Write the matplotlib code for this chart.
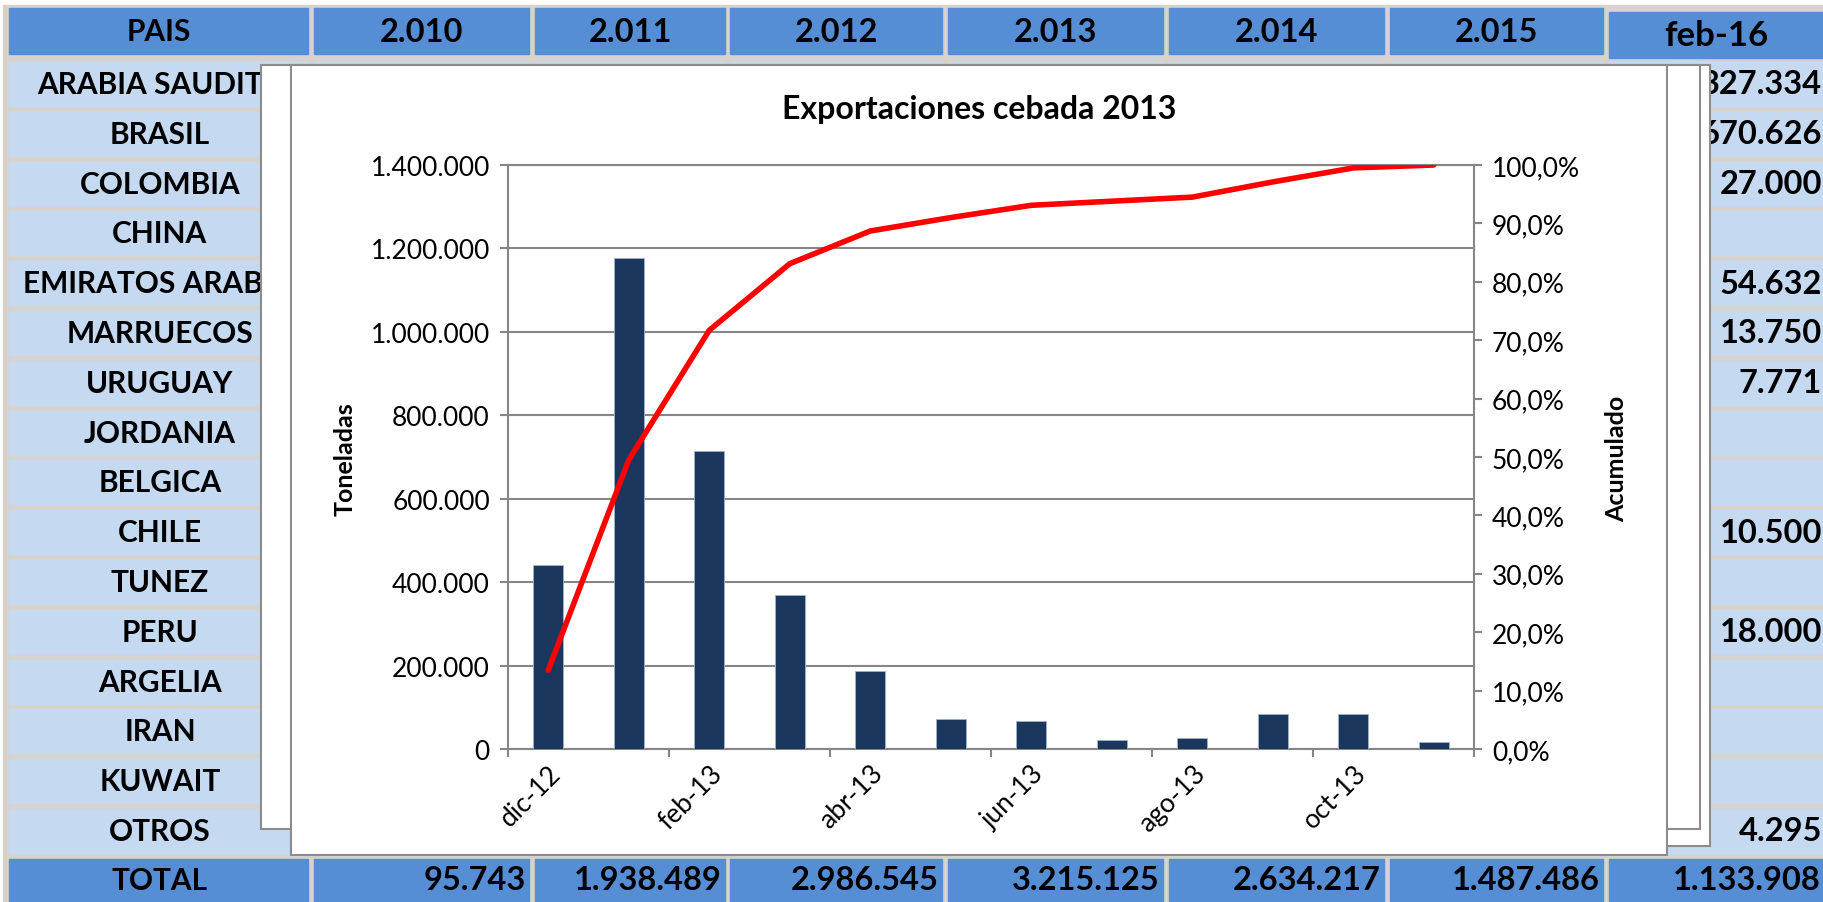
import matplotlib
matplotlib.use('Agg')
import matplotlib.pyplot as plt
from matplotlib.patches import Rectangle
from matplotlib.ticker import FuncFormatter

plt.rcParams['font.family'] = ['Lato', 'DejaVu Sans']

# Datos de la tabla (fondo)
encabezados = ['PAIS', '2.010', '2.011', '2.012', '2.013', '2.014', '2.015', 'feb-16']
paises = ['ARABIA SAUDITA', 'BRASIL', 'COLOMBIA', 'CHINA', 'EMIRATOS ARABES', 'MARRUECOS',
          'URUGUAY', 'JORDANIA', 'BELGICA', 'CHILE', 'TUNEZ', 'PERU', 'ARGELIA', 'IRAN',
          'KUWAIT', 'OTROS']
feb16 = [327334, 670626, 27000, None, 54632, 13750, 7771, None, None, 10500, None, 18000,
         None, None, None, 4295]
totales = [95743, 1938489, 2986545, 3215125, 2634217, 1487486, 1133908]

# Datos del grafico
meses = ['dic-12', 'ene-13', 'feb-13', 'mar-13', 'abr-13', 'may-13', 'jun-13', 'jul-13',
         'ago-13', 'sep-13', 'oct-13', 'nov-13']
toneladas = [442000, 1178000, 714000, 370000, 186000, 73000, 67000, 21000, 27000,
             83000, 83000, 16000]
acumulado = [13.5, 49.5, 71.7, 83.1, 88.7, 91.0, 93.1, 93.8, 94.5, 97.1, 99.5, 100.0]


def miles(v):
    return f'{v:,.0f}'.replace(',', '.')


W, H = 1824, 903
fig = plt.figure(figsize=(W / 100, H / 100), dpi=100)

# ---- tabla de fondo en coordenadas de pixel ----
bg = fig.add_axes([0, 0, 1, 1])
bg.set_xlim(0, W)
bg.set_ylim(H, 0)
bg.axis('off')

azul = '#558ED5'
celeste = '#C5D9F1'
gris = '#D7D3CC'
borde = '#8C8C8C'
cols = [(9, 308), (314, 529), (535, 725), (730, 942), (948, 1163), (1169, 1384),
        (1390, 1603), (1609, 1824)]
fs_tabla = 21.5   # texto
fs_num = 23.5     # cifras (mas anchas en la hoja original)

bg.add_patch(Rectangle((3, 6), W, H, color=gris, zorder=0))

# encabezado (la columna feb-16 queda algo mas baja y con letra mayor)
for i, ((x0, x1), txt) in enumerate(zip(cols, encabezados)):
    ultima = i == len(cols) - 1
    dy = 4 if ultima else 0
    size = fs_tabla if i == 0 else (25 if ultima else fs_num)
    bg.add_patch(Rectangle((x0, 9 + dy), x1 - x0, 46, color=azul, zorder=1))
    bg.text((x0 + x1) / 2, 32 + dy, txt, ha='center', va='center', fontsize=size,
            fontweight='bold', zorder=2)

# filas
for k, pais in enumerate(paises):
    top = 63 + 49.8 * k
    for x0, x1 in cols:
        bg.add_patch(Rectangle((x0, top), x1 - x0, 44, color=celeste, zorder=1))
    bg.text(160, top + 22, pais, ha='center', va='center', fontsize=fs_tabla,
            fontweight='bold', zorder=2)
    if feb16[k] is not None:
        bg.text(cols[-1][1] - 2, top + 22, miles(feb16[k]), ha='right', va='center',
                fontsize=fs_num, fontweight='bold', zorder=2)

# fila total
for (x0, x1) in cols:
    bg.add_patch(Rectangle((x0, 860), x1 - x0, 50, color=azul, zorder=1))
bg.text(160, 881, 'TOTAL', ha='center', va='center', fontsize=fs_tabla,
        fontweight='bold', zorder=2)
for (x0, x1), v in zip(cols[1:], totales):
    bg.text(x1 - 3, 881, miles(v), ha='right', va='center', fontsize=fs_num,
            fontweight='bold', zorder=2)

# marcos de graficos superpuestos
bg.add_patch(Rectangle((300, 66), 1710 - 300, 847 - 66, fc='white', ec=borde, lw=1.5, zorder=3))
bg.add_patch(Rectangle((261, 66), 1700 - 261, 830 - 66, fc='white', ec=borde, lw=1.5, zorder=4))
bg.add_patch(Rectangle((291, 66), 1667 - 291, 856 - 66, fc='white', ec=borde, lw=1.5, zorder=5))

# ---- grafico ----
gris_eje = '#868686'
fs = 19
x = list(range(len(meses)))

ax = fig.add_axes([508 / W, 1 - 750 / H, 966 / W, 584 / H])
ax.patch.set_alpha(0)
ax.bar(x, toneladas, width=0.375, color='#1B375E', edgecolor='#9DB3CF', linewidth=0.6, zorder=3)
ax.set_xlim(-0.5, len(meses) - 0.5)
ax.set_ylim(0, 1400000)
ax.set_yticks(range(0, 1400001, 200000))
ax.yaxis.set_major_formatter(FuncFormatter(lambda v, p: miles(v)))
ax.grid(axis='y', color=gris_eje, lw=1.5)
ax.set_axisbelow(True)
for s in ['left', 'bottom', 'top']:
    ax.spines[s].set_color(gris_eje)
    ax.spines[s].set_linewidth(1.5)
ax.spines['right'].set_visible(False)
ax.tick_params(axis='y', direction='out', length=6, width=1.5, color=gris_eje,
               labelsize=fs, pad=7)

ax.set_xticks(x[::2])
ax.set_xticklabels(meses[::2], rotation=45, ha='right', va='top', rotation_mode='anchor',
                   fontsize=fs)
ax.set_xticks([i - 0.5 for i in range(0, len(meses) + 1, 2)], minor=True)
ax.tick_params(axis='x', which='major', length=0, pad=8)
ax.tick_params(axis='x', which='minor', direction='out', length=6, width=1.5, color=gris_eje)

ax2 = ax.twinx()
ax2.plot(x, [a / 100 for a in acumulado], color='#FF0000', lw=4, solid_joinstyle='round',
         solid_capstyle='round', zorder=4)
ax2.set_ylim(0, 1)
ax2.set_yticks([i / 10 for i in range(11)])
ax2.yaxis.set_major_formatter(FuncFormatter(lambda v, p: f'{v * 100:.1f}%'.replace('.', ',')))
for s in ['left', 'bottom', 'top']:
    ax2.spines[s].set_visible(False)
ax2.spines['right'].set_color(gris_eje)
ax2.spines['right'].set_linewidth(1.5)
ax2.tick_params(axis='y', direction='out', length=6, width=1.5, color=gris_eje,
                labelsize=fs, pad=7)

fig.text(979 / W, 1 - 110 / H, 'Exportaciones cebada 2013', ha='center', va='center',
         fontsize=23, fontweight='bold')
fig.text(345 / W, 1 - 459 / H, 'Toneladas', ha='center', va='center', rotation=90,
         fontsize=18, fontweight='bold')
fig.text(1617 / W, 1 - 459 / H, 'Acumulado', ha='center', va='center', rotation=90,
         fontsize=18, fontweight='bold')

fig.savefig('out.png', dpi=100, facecolor='white')
